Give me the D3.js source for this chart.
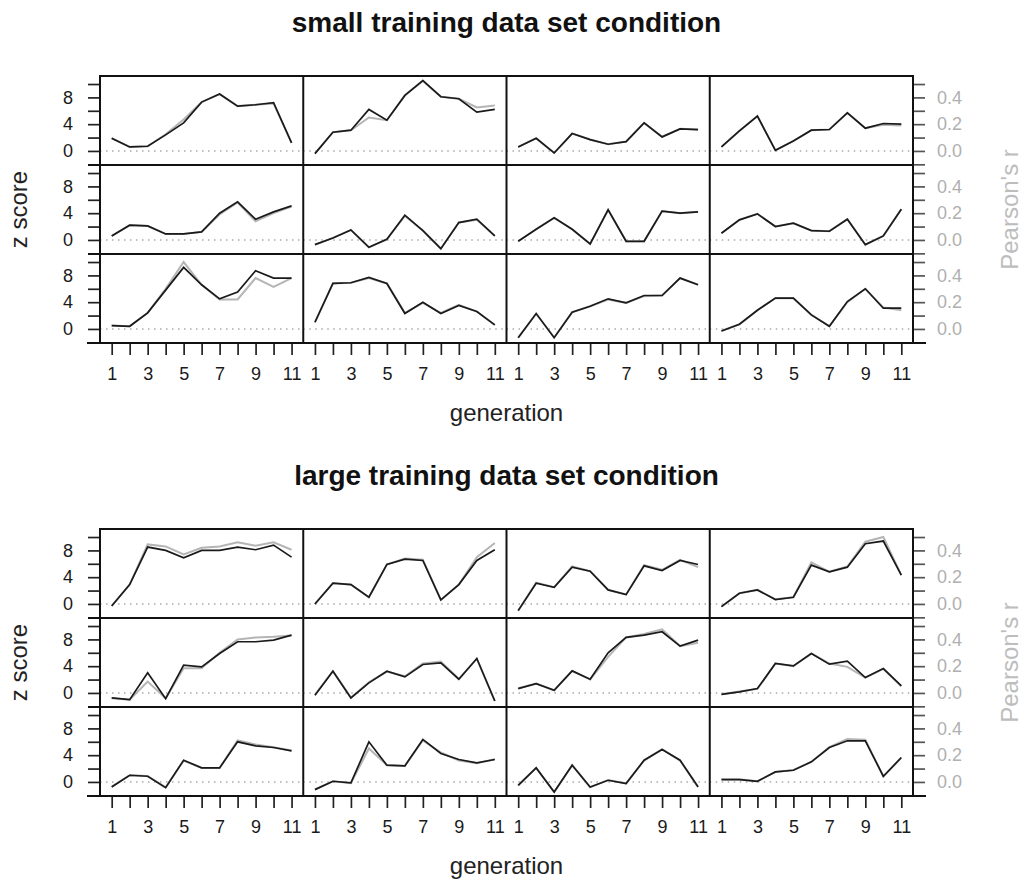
<!DOCTYPE html>
<html>
<head>
<meta charset="utf-8">
<script src="https://cdn.jsdelivr.net/npm/d3@7"></script>
<style>
  body { margin: 0; background: #fff; }
  text { font-family: "Liberation Sans", Arial, Helvetica, sans-serif; }
</style>
</head>
<body>
<div id="chart"></div>
<script>
const generations = [1, 2, 3, 4, 5, 6, 7, 8, 9, 10, 11];
const zTicks = [0, 4, 8];
const rTicks = [0, 0.2, 0.4];
const genTicks = [1, 3, 5, 7, 9, 11];

// z score (black) per panel, row by row
const smallZ = [
  [1.9, 0.6, 0.7, 2.4, 4.2, 7.3, 8.5, 6.7, 6.9, 7.2, 1.2],
  [-0.4, 2.8, 3.1, 6.2, 4.6, 8.3, 10.5, 8.1, 7.8, 5.8, 6.2],
  [0.6, 1.9, -0.3, 2.6, 1.7, 1.0, 1.4, 4.2, 2.1, 3.3, 3.2],
  [0.6, 3.0, 5.2, 0.1, 1.5, 3.1, 3.2, 5.7, 3.4, 4.1, 4.0],
  [0.6, 2.2, 2.1, 0.9, 0.9, 1.2, 4.0, 5.7, 3.1, 4.2, 5.1],
  [-0.7, 0.3, 1.5, -1.1, 0.1, 3.7, 1.4, -1.3, 2.6, 3.1, 0.6],
  [-0.2, 1.6, 3.3, 1.6, -0.6, 4.5, -0.2, -0.2, 4.3, 4.0, 4.2],
  [1.0, 3.0, 3.9, 2.0, 2.5, 1.4, 1.3, 3.1, -0.7, 0.6, 4.6],
  [0.5, 0.4, 2.4, 5.8, 9.2, 6.6, 4.5, 5.5, 8.7, 7.6, 7.6],
  [1.0, 6.8, 6.9, 7.7, 6.8, 2.3, 4.0, 2.3, 3.5, 2.6, 0.6],
  [-1.3, 2.3, -1.3, 2.5, 3.4, 4.5, 3.9, 5.0, 5.0, 7.6, 6.6],
  [-0.3, 0.7, 2.8, 4.6, 4.6, 2.1, 0.4, 4.1, 6.0, 3.1, 3.1]
];
// Pearson's r (grey) per panel
const smallR = [
  [0.095, 0.03, 0.035, 0.125, 0.235, 0.365, 0.425, 0.335, 0.345, 0.355, 0.06],
  [-0.02, 0.14, 0.155, 0.25, 0.23, 0.415, 0.525, 0.405, 0.39, 0.325, 0.34],
  [0.03, 0.095, -0.015, 0.13, 0.085, 0.05, 0.07, 0.21, 0.105, 0.165, 0.16],
  [0.03, 0.15, 0.26, 0.005, 0.075, 0.155, 0.16, 0.285, 0.17, 0.195, 0.19],
  [0.03, 0.11, 0.105, 0.045, 0.045, 0.06, 0.19, 0.28, 0.14, 0.2, 0.25],
  [-0.035, 0.015, 0.075, -0.055, 0.005, 0.18, 0.07, -0.065, 0.13, 0.15, 0.03],
  [-0.01, 0.08, 0.165, 0.08, -0.03, 0.225, -0.01, -0.01, 0.215, 0.2, 0.21],
  [0.05, 0.15, 0.195, 0.1, 0.125, 0.07, 0.065, 0.155, -0.035, 0.03, 0.23],
  [0.025, 0.02, 0.12, 0.3, 0.5, 0.33, 0.22, 0.22, 0.38, 0.315, 0.38],
  [0.05, 0.34, 0.345, 0.38, 0.34, 0.12, 0.195, 0.12, 0.18, 0.13, 0.03],
  [-0.065, 0.115, -0.065, 0.125, 0.17, 0.22, 0.195, 0.245, 0.25, 0.38, 0.33],
  [-0.015, 0.035, 0.14, 0.23, 0.23, 0.105, 0.02, 0.2, 0.3, 0.16, 0.14]
];
const largeZ = [
  [-0.3, 2.9, 8.5, 8.0, 6.9, 8.0, 8.0, 8.5, 8.1, 8.8, 7.0],
  [0.0, 3.1, 2.9, 1.0, 5.9, 6.7, 6.5, 0.6, 2.9, 6.5, 8.1],
  [-1.0, 3.1, 2.5, 5.5, 4.9, 2.1, 1.4, 5.7, 5.0, 6.5, 5.9],
  [-0.4, 1.6, 2.1, 0.65, 1.0, 5.8, 4.8, 5.5, 9.0, 9.4, 4.3],
  [-0.75, -1.0, 3.0, -0.85, 4.15, 3.9, 5.9, 7.65, 7.65, 7.9, 8.65],
  [-0.35, 3.25, -0.75, 1.5, 3.25, 2.4, 4.25, 4.5, 2.05, 5.15, -1.2],
  [0.65, 1.4, 0.4, 3.3, 2.05, 6.0, 8.3, 8.65, 9.15, 7.0, 7.9],
  [-0.2, 0.15, 0.65, 4.4, 4.05, 5.9, 4.3, 4.75, 2.3, 3.65, 1.05],
  [-0.75, 1.0, 0.85, -0.85, 3.25, 2.1, 2.1, 6.0, 5.4, 5.15, 4.65],
  [-1.15, 0.1, -0.15, 6.0, 2.5, 2.4, 6.35, 4.25, 3.35, 2.85, 3.35],
  [-0.5, 2.1, -1.5, 2.5, -0.75, 0.25, -0.25, 3.25, 4.85, 3.25, -0.75],
  [0.35, 0.35, 0.1, 1.5, 1.75, 3.0, 5.15, 6.15, 6.15, 0.85, 3.65]
];
const largeR = [
  [-0.015, 0.145, 0.445, 0.43, 0.37, 0.42, 0.43, 0.46, 0.435, 0.46, 0.405],
  [0.0, 0.155, 0.145, 0.05, 0.295, 0.34, 0.33, 0.03, 0.145, 0.35, 0.455],
  [-0.05, 0.16, 0.125, 0.28, 0.245, 0.105, 0.07, 0.29, 0.255, 0.33, 0.275],
  [-0.02, 0.08, 0.105, 0.035, 0.05, 0.31, 0.24, 0.28, 0.465, 0.5, 0.215],
  [-0.04, -0.05, 0.085, -0.04, 0.185, 0.185, 0.3, 0.4, 0.415, 0.42, 0.43],
  [-0.015, 0.165, -0.035, 0.08, 0.16, 0.125, 0.22, 0.235, 0.105, 0.255, -0.06],
  [0.035, 0.07, 0.02, 0.165, 0.1, 0.27, 0.415, 0.44, 0.475, 0.35, 0.375],
  [-0.01, 0.01, 0.03, 0.22, 0.2, 0.295, 0.22, 0.195, 0.115, 0.18, 0.05],
  [-0.035, 0.05, 0.045, -0.04, 0.16, 0.105, 0.105, 0.31, 0.28, 0.26, 0.235],
  [-0.055, 0.005, -0.01, 0.25, 0.125, 0.12, 0.31, 0.22, 0.16, 0.14, 0.17],
  [-0.025, 0.105, -0.075, 0.125, -0.04, 0.015, -0.01, 0.16, 0.245, 0.16, -0.035],
  [0.02, 0.02, 0.005, 0.075, 0.09, 0.15, 0.26, 0.32, 0.315, 0.04, 0.18]
];

const conditions = [
  { title: "small training data set condition", z: smallZ, r: smallR, top: 76 },
  { title: "large training data set condition", z: largeZ, r: largeR, top: 529 }
];

const width = 1026;
const height = 881;
const left = 100, right = 913;
const nCols = 4, nRows = 3;
const colW = (right - left) / nCols;
const rowH = 89;

const svg = d3.select("#chart").append("svg")
  .attr("width", width)
  .attr("height", height);

const x = d3.scaleLinear().domain([0.35, 11.65]).range([0, colW]);
const y = d3.scaleLinear().domain([-2.1, 11.2]).range([rowH, 0]);
const yr = d3.scaleLinear().domain([-0.105, 0.56]).range([rowH, 0]);

const line = d3.line().x((d, i) => x(generations[i]));

const tickFont = "'Liberation Sans', Arial, sans-serif";

conditions.forEach(cond => {
  const g = svg.append("g").attr("transform", `translate(${left},${cond.top})`);
  const totalH = rowH * nRows;

  svg.append("text")
    .attr("x", (left + right) / 2)
    .attr("y", cond.top - 44)
    .attr("text-anchor", "middle")
    .attr("font-size", "28px")
    .attr("font-weight", "bold")
    .attr("fill", "#111")
    .text(cond.title);

  for (let row = 0; row < nRows; row++) {
    const rowG = g.append("g").attr("transform", `translate(0,${row * rowH})`);

    // left axis (z score)
    rowG.append("g")
      .call(d3.axisLeft(y).tickValues([-2, 0, 2, 4, 6, 8, 10]).tickSize(12).tickPadding(15)
        .tickFormat(d => zTicks.includes(d) ? d : ""))
      .call(a => a.select(".domain").remove())
      .call(a => a.selectAll("line").attr("stroke", "#222").attr("stroke-width", 1.7))
      .call(a => a.selectAll("text").attr("font-size", "18px").attr("fill", "#1a1a1a")
        .style("font-family", tickFont));

    // right axis (Pearson's r)
    rowG.append("g")
      .attr("transform", `translate(${right - left},0)`)
      .call(d3.axisRight(yr).tickValues([-0.1, 0, 0.1, 0.2, 0.3, 0.4, 0.5]).tickSize(12).tickPadding(12)
        .tickFormat(d => rTicks.includes(d) ? d3.format(".1f")(d) : ""))
      .call(a => a.select(".domain").remove())
      .call(a => a.selectAll("line").attr("stroke", "#555").attr("stroke-width", 1.7))
      .call(a => a.selectAll("text").attr("font-size", "18px").attr("fill", "#b0b0b0")
        .style("font-family", tickFont));

    for (let col = 0; col < nCols; col++) {
      const idx = row * nCols + col;
      const p = rowG.append("g").attr("transform", `translate(${col * colW},0)`);

      p.append("line")
        .attr("x1", 0).attr("x2", colW)
        .attr("y1", y(0)).attr("y2", y(0))
        .attr("stroke", "#aaa")
        .attr("stroke-width", 1.4)
        .attr("stroke-dasharray", "1.5,4.5");

      p.append("path")
        .attr("d", line.y(d => yr(d))(cond.r[idx]))
        .attr("fill", "none")
        .attr("stroke", "#b5b5b5")
        .attr("stroke-width", 2);

      p.append("path")
        .attr("d", line.y(d => y(d))(cond.z[idx]))
        .attr("fill", "none")
        .attr("stroke", "#1a1a1a")
        .attr("stroke-width", 1.7);
    }
  }

  // bottom axes
  for (let col = 0; col < nCols; col++) {
    g.append("g")
      .attr("transform", `translate(${col * colW},${totalH})`)
      .call(d3.axisBottom(x).tickValues(generations).tickSize(12).tickPadding(12)
        .tickFormat(d => genTicks.includes(d) ? d : ""))
      .call(a => a.select(".domain").remove())
      .call(a => a.selectAll("line").attr("stroke", "#222").attr("stroke-width", 1.7))
      .call(a => a.selectAll("text").attr("font-size", "18px").attr("fill", "#1a1a1a")
        .style("font-family", tickFont));
  }

  // frame
  const frame = g.append("g").attr("stroke", "#111").attr("stroke-width", 2).attr("fill", "none");
  frame.append("rect").attr("width", right - left).attr("height", totalH);
  for (let c = 1; c < nCols; c++) {
    frame.append("line").attr("x1", c * colW).attr("x2", c * colW).attr("y1", 0).attr("y2", totalH);
  }
  for (let r = 1; r < nRows; r++) {
    frame.append("line").attr("x1", -12).attr("x2", right - left).attr("y1", r * rowH).attr("y2", r * rowH);
  }
  frame.append("line").attr("x1", -13).attr("x2", right - left + 13).attr("y1", totalH).attr("y2", totalH);

  svg.append("text")
    .attr("transform", `translate(19,${cond.top + totalH / 2}) rotate(-90)`)
    .attr("text-anchor", "middle")
    .attr("dy", "0.35em")
    .attr("font-size", "24px")
    .attr("fill", "#222")
    .text("z score");

  svg.append("text")
    .attr("transform", `translate(1010,${cond.top + totalH / 2}) rotate(-90)`)
    .attr("text-anchor", "middle")
    .attr("dy", "0.35em")
    .attr("font-size", "24px")
    .attr("fill", "#bdbdbd")
    .text("Pearson's r");

  svg.append("text")
    .attr("x", (left + right) / 2)
    .attr("y", cond.top + totalH + 78)
    .attr("text-anchor", "middle")
    .attr("font-size", "24px")
    .attr("fill", "#222")
    .text("generation");
});
</script>
</body>
</html>
